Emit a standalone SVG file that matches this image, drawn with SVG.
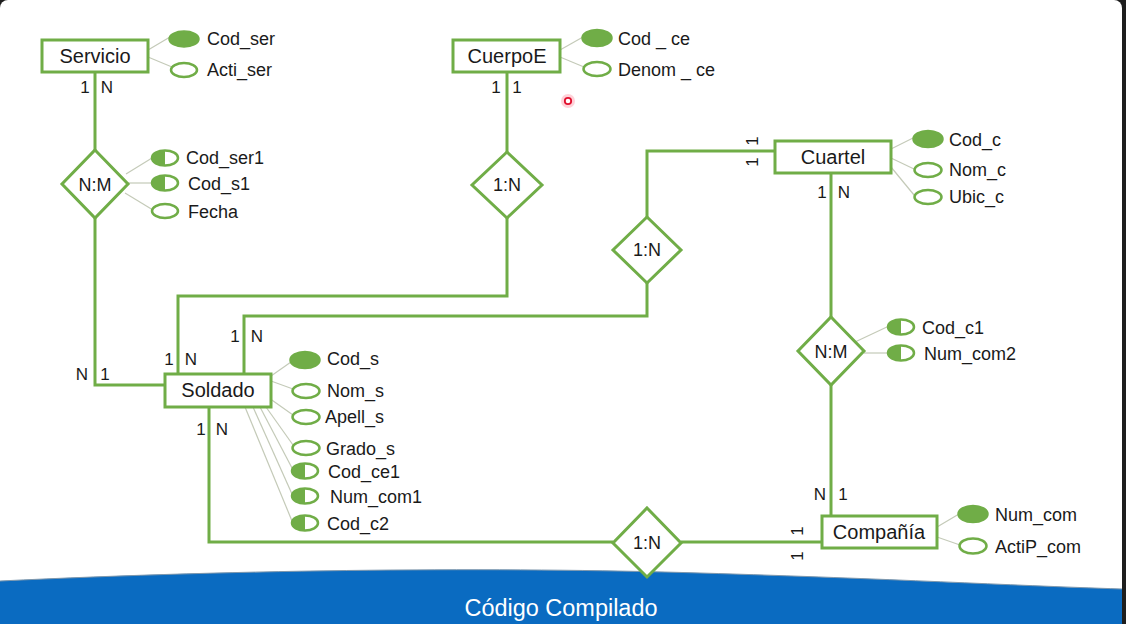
<svg xmlns="http://www.w3.org/2000/svg" width="1126" height="624" viewBox="0 0 1126 624">
<defs>
<style>
.ent{fill:#ffffff;stroke:#70AD47;stroke-width:3}
.rel{fill:#ffffff;stroke:#70AD47;stroke-width:3;stroke-linejoin:miter}
.con{fill:none;stroke:#70AD47;stroke-width:3}
.al{fill:none;stroke:#c4cab8;stroke-width:1.2}
.pk{fill:#70AD47;stroke:#70AD47;stroke-width:1.5}
.at{fill:#ffffff;stroke:#70AD47;stroke-width:2.5}
.fkf{fill:#70AD47}
.t{font-family:"Liberation Sans",Arial,sans-serif;fill:#1a1a1a}
.et{font-size:20px;text-anchor:middle}
.rt{font-size:18px;text-anchor:middle}
.att{font-size:18px}
.ct{font-size:17px;text-anchor:middle}
</style>
</defs>
<rect x="0" y="0" width="1126" height="624" fill="#1e1e1e"/>
<rect x="0" y="0" width="1122" height="650" rx="8" fill="#ffffff"/>
<path d="M0,581 C250,569 500,567 700,573 S1000,585 1122,589 L1122,624 L0,624 Z" fill="#0A6BC1"/>
<path d="M0,581 C250,569 500,567 700,573 S1000,585 1122,589" fill="none" stroke="#7f98ad" stroke-width="1"/>
<text x="561" y="616" font-family="Liberation Sans,Arial,sans-serif" font-size="23" fill="#ffffff" text-anchor="middle" textLength="193" lengthAdjust="spacingAndGlyphs">Código Compilado</text>

<g id="connectors">
<polyline class="con" points="95,72 95,150"/>
<polyline class="con" points="95,218 95,385 165,385"/>
<polyline class="con" points="507,72 507,152"/>
<polyline class="con" points="507,218 507,296 178,296 178,374"/>
<polyline class="con" points="775,151 647,151 647,217"/>
<polyline class="con" points="647,283 647,316 244,316 244,374"/>
<polyline class="con" points="831,173 831,317"/>
<polyline class="con" points="831,385 831,516"/>
<polyline class="con" points="209,407 209,542 613,542"/>
<polyline class="con" points="681,542 822,542"/>
</g>

<g id="cardinalities" class="t">
<text class="ct" x="85" y="93">1</text><text class="ct" x="107" y="93">N</text>
<text class="ct" x="496" y="93">1</text><text class="ct" x="517" y="93">1</text>
<text class="ct" x="822" y="198">1</text><text class="ct" x="844" y="198">N</text>
<text class="ct" x="820" y="500">N</text><text class="ct" x="843" y="500">1</text>
<text class="ct" x="169" y="365">1</text><text class="ct" x="191" y="365">N</text>
<text class="ct" x="235" y="342">1</text><text class="ct" x="257" y="342">N</text>
<text class="ct" x="82" y="380">N</text><text class="ct" x="105" y="380">1</text>
<text class="ct" x="201" y="435">1</text><text class="ct" x="222" y="435">N</text>
<text class="ct" transform="translate(758,162) rotate(-90)" x="0" y="0">1</text>
<text class="ct" transform="translate(758,141) rotate(-90)" x="0" y="0">1</text>
<text class="ct" transform="translate(803,556) rotate(-90)" x="0" y="0">1</text>
<text class="ct" transform="translate(803,531) rotate(-90)" x="0" y="0">1</text>
</g>

<g id="servicio">
<line class="al" x1="148" y1="50" x2="170" y2="37"/>
<line class="al" x1="148" y1="57" x2="172" y2="67"/>
<rect class="ent" x="42" y="40" width="106" height="32"/>
<text class="t et" x="95" y="63">Servicio</text>
<ellipse class="pk" cx="184" cy="39" rx="15" ry="8"/>
<text class="t att" x="207" y="45">Cod_ser</text>
<ellipse class="at" cx="184" cy="70" rx="13" ry="7"/>
<text class="t att" x="207" y="76">Acti_ser</text>
</g>

<g id="rel-servicio-soldado">
<line class="al" x1="126" y1="174" x2="152" y2="158"/>
<line class="al" x1="128" y1="183" x2="151" y2="183"/>
<line class="al" x1="125" y1="193" x2="153" y2="210"/>
<polygon class="rel" points="95,150 128,184 95,218 62,184"/>
<text class="t rt" x="95" y="191">N:M</text>
<ellipse class="at" cx="165" cy="158" rx="13" ry="7.5"/>
<path class="fkf" d="M165,150.5 A13,7.5 0 0 0 165,165.5 Z"/>
<text class="t att" x="186" y="164">Cod_ser1</text>
<ellipse class="at" cx="165" cy="183" rx="13" ry="7.5"/>
<path class="fkf" d="M165,175.5 A13,7.5 0 0 0 165,190.5 Z"/>
<text class="t att" x="188" y="190">Cod_s1</text>
<ellipse class="at" cx="165" cy="211" rx="13" ry="7"/>
<text class="t att" x="188" y="218">Fecha</text>
</g>

<g id="cuerpoe">
<line class="al" x1="560" y1="50" x2="583" y2="37"/>
<line class="al" x1="560" y1="57" x2="584" y2="67"/>
<rect class="ent" x="453" y="40" width="107" height="32"/>
<text class="t et" x="507" y="63">CuerpoE</text>
<ellipse class="pk" cx="597" cy="38" rx="15" ry="8.5"/>
<text class="t att" x="618" y="45">Cod _ ce</text>
<ellipse class="at" cx="597" cy="69" rx="13.5" ry="7"/>
<text class="t att" x="618" y="76">Denom _ ce</text>
</g>

<g id="rel-cuerpoe-soldado">
<polygon class="rel" points="507,152 542,185 507,218 472,185"/>
<text class="t rt" x="507" y="191">1:N</text>
</g>

<g id="cuartel">
<line class="al" x1="891" y1="149" x2="913" y2="138"/>
<line class="al" x1="891" y1="158" x2="914" y2="169"/>
<line class="al" x1="891" y1="167" x2="914" y2="195"/>
<rect class="ent" x="775" y="141" width="116" height="32"/>
<text class="t et" x="833" y="164">Cuartel</text>
<ellipse class="pk" cx="928" cy="139" rx="15" ry="8.5"/>
<text class="t att" x="949" y="146">Cod_c</text>
<ellipse class="at" cx="928" cy="170" rx="13.5" ry="7"/>
<text class="t att" x="949" y="176">Nom_c</text>
<ellipse class="at" cx="928" cy="197" rx="13.5" ry="7"/>
<text class="t att" x="949" y="203">Ubic_c</text>
</g>

<g id="rel-cuartel-soldado">
<polygon class="rel" points="647,217 681,250 647,283 613,250"/>
<text class="t rt" x="647" y="256">1:N</text>
</g>

<g id="rel-cuartel-compania">
<line class="al" x1="855" y1="342" x2="889" y2="326"/>
<line class="al" x1="864" y1="353" x2="888" y2="353"/>
<polygon class="rel" points="831,317 864,351 831,385 798,351"/>
<text class="t rt" x="831" y="358">N:M</text>
<ellipse class="at" cx="901" cy="327" rx="13" ry="7.5"/>
<path class="fkf" d="M901,319.5 A13,7.5 0 0 0 901,334.5 Z"/>
<text class="t att" x="922" y="334">Cod_c1</text>
<ellipse class="at" cx="901" cy="353" rx="13" ry="7.5"/>
<path class="fkf" d="M901,345.5 A13,7.5 0 0 0 901,360.5 Z"/>
<text class="t att" x="924" y="360">Num_com2</text>
</g>

<g id="soldado">
<line class="al" x1="271" y1="376" x2="291" y2="362"/>
<line class="al" x1="271" y1="381" x2="293" y2="389"/>
<line class="al" x1="269" y1="398" x2="293" y2="415"/>
<line class="al" x1="266" y1="407" x2="293" y2="445"/>
<line class="al" x1="260" y1="407" x2="292" y2="468"/>
<line class="al" x1="253" y1="407" x2="292" y2="494"/>
<line class="al" x1="245" y1="407" x2="292" y2="521"/>
<rect class="ent" x="165" y="374" width="106" height="33"/>
<text class="t et" x="218" y="397">Soldado</text>
<ellipse class="pk" cx="305" cy="360" rx="15" ry="8.5"/>
<text class="t att" x="327" y="365">Cod_s</text>
<ellipse class="at" cx="306" cy="391" rx="13.5" ry="7"/>
<text class="t att" x="327" y="397">Nom_s</text>
<ellipse class="at" cx="306" cy="417" rx="13.5" ry="7"/>
<text class="t att" x="325" y="423">Apell_s</text>
<ellipse class="at" cx="306" cy="448" rx="13.5" ry="7"/>
<text class="t att" x="326" y="455">Grado_s</text>
<ellipse class="at" cx="305" cy="471" rx="13" ry="7.5"/>
<path class="fkf" d="M305,463.5 A13,7.5 0 0 0 305,478.5 Z"/>
<text class="t att" x="328" y="478">Cod_ce1</text>
<ellipse class="at" cx="305" cy="496" rx="13" ry="7.5"/>
<path class="fkf" d="M305,488.5 A13,7.5 0 0 0 305,503.5 Z"/>
<text class="t att" x="330" y="503">Num_com1</text>
<ellipse class="at" cx="305" cy="523" rx="13" ry="7.5"/>
<path class="fkf" d="M305,515.5 A13,7.5 0 0 0 305,530.5 Z"/>
<text class="t att" x="327" y="530">Cod_c2</text>
</g>

<g id="rel-soldado-compania">
<polygon class="rel" points="647,508 681,543 647,577 613,543"/>
<text class="t rt" x="647" y="549">1:N</text>
</g>

<g id="compania">
<line class="al" x1="937" y1="527" x2="959" y2="514"/>
<line class="al" x1="937" y1="537" x2="960" y2="545"/>
<rect class="ent" x="822" y="516" width="115" height="32"/>
<text class="t et" x="879" y="539">Compañía</text>
<ellipse class="pk" cx="973" cy="514" rx="15" ry="8.5"/>
<text class="t att" x="995" y="521">Num_com</text>
<ellipse class="at" cx="973" cy="546" rx="13.5" ry="7.5"/>
<text class="t att" x="995" y="553">ActiP_com</text>
</g>

<g id="cursor">
<circle cx="568" cy="101" r="7" fill="#ff9aa8" opacity="0.45"/>
<circle cx="568" cy="101" r="3.2" fill="#ffffff" stroke="#e0102e" stroke-width="1.8"/>
</g>
</svg>
